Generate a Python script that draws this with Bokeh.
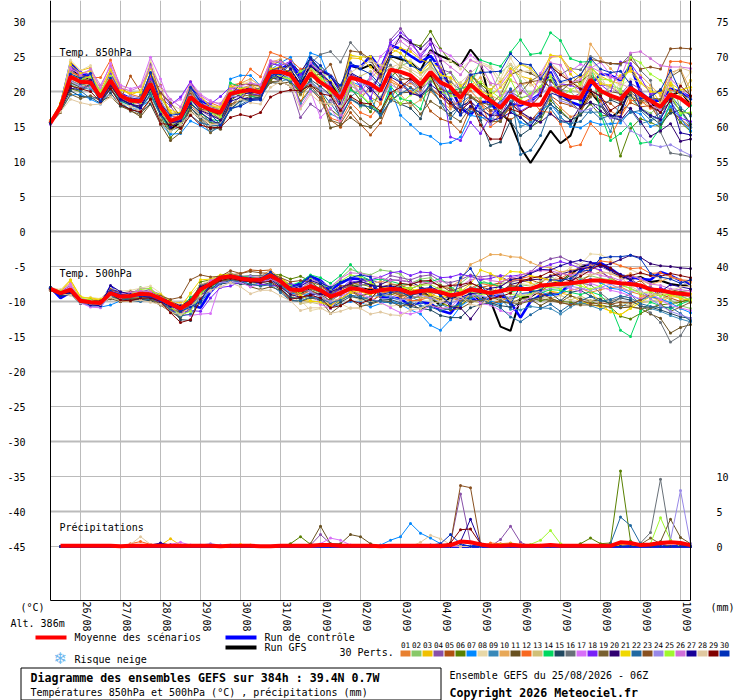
from bokeh.plotting import figure
from bokeh.models import Label, BoxAnnotation, FixedTicker, LinearAxis, Range1d
from bokeh.embed import file_html
from bokeh.resources import INLINE

hours = [6*i for i in range(65)]
day_labels = ["26/08","27/08","28/08","29/08","30/08","31/08","01/09","02/09","03/09","04/09","05/09","06/09","07/09","08/09","09/09","10/09"]
left_ticks = [30,25,20,15,10,5,0,-5,-10,-15,-20,-25,-30,-35,-40,-45]
right_labels = {30:"75",25:"70",20:"65",15:"60",10:"55",5:"50",0:"45",-5:"40",-10:"35",-15:"30",-35:"10",-40:"5",-45:"0"}
member_colors = ["#E88030","#88C868","#F0C000","#8850A8","#B05010","#588000","#0088FF","#E8D8A8","#3888B8","#E8A858","#685020","#F86820","#D0C078","#00D860","#204860","#687078","#D870F8","#7820F8","#786030","#300070","#F0D800","#2068A0","#885020","#9888E8","#A0F830","#D070D8","#180098","#E0C8A0","#800000","#0030B8"]

mean850 = [15.5,17.8,22.1,21.4,21.3,19.2,21.6,19.4,18.7,18.6,21.1,17.8,15.8,16.3,19.2,18.0,17.4,17.0,19.7,20.0,20.2,19.9,22.8,22.8,22.4,20.4,22.6,21.3,20.4,19.0,22.0,21.6,21.1,20.1,23.1,22.8,22.3,21.0,22.8,21.3,20.6,19.1,21.0,19.7,18.7,17.7,19.4,18.5,18.1,18.1,20.5,19.7,19.2,19.1,21.7,20.1,19.4,18.9,20.5,19.6,18.7,17.8,19.6,19.0,17.9]
ctrl850 = [15.5,17.9,24.0,22.5,22.1,19.4,22.3,19.7,19.0,18.7,22.3,18.5,15.4,15.9,20.6,18.7,17.7,17.3,19.9,20.1,20.3,20.3,23.0,23.2,24.0,22.0,24.5,23.0,22.3,20.4,23.7,23.5,25.1,23.2,26.6,26.1,25.1,24.2,25.1,23.2,20.6,17.7,16.6,18.5,18.5,16.3,18.2,18.0,18.7,19.7,22.8,19.7,18.5,18.0,20.9,22.5,22.3,21.6,23.7,19.9,18.7,18.7,20.4,19.9,19.2]
gfs850 = [15.5,17.4,23.5,22.0,21.8,18.8,22.5,19.5,18.5,18.5,21.5,17.0,14.6,15.6,19.7,18.2,17.0,16.8,19.4,20.2,20.5,20.0,22.5,22.6,23.0,21.0,23.8,22.4,21.2,19.2,23.7,23.2,23.8,22.4,25.1,24.6,24.2,23.0,25.9,25.1,24.5,23.6,26.0,24.2,18.2,17.0,15.6,12.0,9.8,12.0,14.4,12.6,13.7,17.5,19.9,18.2,16.2,17.3,20.4,19.1,18.3,17.2,19.4,20.0,18.2]
mean500 = [-8.2,-8.8,-8.3,-9.9,-10.1,-10.2,-8.8,-9.3,-9.2,-8.9,-9.0,-9.6,-10.3,-11.0,-10.1,-8.3,-7.5,-6.6,-6.4,-6.7,-6.9,-6.9,-6.3,-7.1,-8.3,-8.4,-7.8,-8.4,-9.3,-8.8,-8.1,-8.3,-8.7,-8.4,-8.2,-8.3,-8.8,-8.5,-8.4,-8.7,-9.1,-8.9,-8.3,-8.5,-8.8,-8.5,-8.2,-8.2,-8.2,-7.7,-7.6,-7.5,-7.4,-7.2,-7.0,-7.0,-7.2,-7.4,-7.5,-7.7,-8.3,-8.4,-8.7,-8.9,-9.0]
ctrl500 = [-8.0,-9.5,-8.7,-10.0,-10.3,-10.4,-7.9,-9.0,-9.6,-9.7,-9.4,-9.6,-10.5,-10.8,-10.5,-10.9,-8.6,-7.2,-6.5,-6.7,-6.9,-7.0,-6.5,-7.2,-8.0,-7.4,-6.4,-7.0,-8.4,-7.4,-6.7,-6.8,-7.0,-9.4,-9.4,-9.6,-10.6,-10.1,-10.3,-11.3,-11.7,-9.9,-9.5,-9.9,-9.3,-9.1,-10.1,-12.3,-10.0,-9.1,-9.0,-8.9,-7.2,-5.6,-4.6,-4.5,-5.3,-6.3,-6.5,-6.8,-6.9,-5.8,-6.3,-7.0,-7.5]
gfs500 = [-8.1,-8.9,-8.1,-9.8,-10.2,-10.3,-9.0,-9.5,-9.4,-9.1,-8.7,-9.4,-10.6,-11.4,-10.4,-8.0,-7.2,-6.4,-6.2,-6.6,-6.7,-6.8,-6.1,-7.3,-8.5,-8.8,-8.1,-8.6,-9.0,-8.2,-7.6,-8.1,-8.3,-8.5,-8.2,-8.0,-8.6,-8.4,-9.4,-10.6,-9.4,-9.4,-9.8,-9.4,-9.9,-13.6,-14.2,-9.5,-9.3,-8.4,-7.5,-7.2,-6.1,-5.1,-4.7,-4.6,-5.6,-6.5,-6.8,-6.5,-7.2,-7.0,-7.5,-7.7,-7.7]
mean_mm = [0.1,0.1,0.1,0.1,0.1,0.1,0.1,0.05,0.1,0.1,0.1,0.1,0.1,0.1,0.1,0.1,0.1,0.05,0.1,0.1,0.1,0.05,0.05,0.1,0.1,0.1,0.1,0.2,0.2,0.1,0.1,0.1,0.1,0.05,0.1,0.1,0.1,0.1,0.1,0.1,0.2,0.7,0.6,0.3,0.1,0.1,0.2,0.1,0.1,0.1,0.2,0.1,0.1,0.1,0.1,0.1,0.1,0.6,0.5,0.2,0.3,0.5,0.6,0.5,0.2]
ctrl_mm = [0.0]*65
gfs_mm = [0.0]*65

t850_01 = [15.6,17.9,22.8,22.0,21.6,19.4,22.4,19.8,18.9,18.2,21.7,17.2,15.0,
 15.8,19.8,18.2,17.0,16.6,19.2,20.4,20.9,20.2,23.4,23.0,22.1,20.1,
 23.0,21.8,19.6,17.9,21.2,20.6,19.2,18.3,21.4,20.7,21.2,20.2,22.3,
 19.8,18.8,17.7,19.4,18.2,16.9,16.2,18.3,16.8,15.9,16.6,19.1,17.7,
 16.4,16.8,20.3,18.6,17.2,16.4,19.6,18.3,18.7,17.4,20.2,19.9,18.4]
t850_02 = [15.4,17.5,21.0,20.4,22.2,18.9,20.8,19.6,17.9,18.0,20.0,19.2,16.8,
 16.9,20.1,18.9,18.2,17.3,20.5,20.2,19.6,19.3,22.3,21.8,23.3,19.5,
 21.8,23.4,20.7,17.6,19.4,17.8,18.6,19.2,21.8,23.7,24.2,22.5,23.6,
 21.9,22.8,20.9,19.3,19.0,19.8,22.7,23.9,21.5,19.2,20.4,22.2,20.3,
 20.0,18.4,22.0,19.3,20.8,20.4,19.0,17.6,16.9,18.0,21.8,17.5,15.4]
t850_03 = [15.7,18.3,24.2,23.0,23.4,20.3,23.2,20.4,19.5,20.1,24.0,19.5,16.9,
 17.0,21.4,19.2,18.0,17.6,20.5,21.3,21.0,20.6,24.0,24.2,23.5,18.0,
 23.2,21.9,19.8,18.6,24.8,24.7,23.5,21.9,25.4,26.2,25.7,24.6,24.0,
 23.4,21.0,19.0,22.7,20.9,20.3,21.4,23.3,22.2,21.8,20.2,24.9,25.0,
 22.5,20.8,23.4,22.2,21.5,21.1,23.4,21.3,20.4,18.4,20.9,19.4,21.6]
t850_04 = [15.4,17.6,23.0,22.1,21.9,19.5,22.8,19.2,17.9,19.4,23.9,19.2,17.9,
 16.0,18.8,17.3,16.4,16.3,19.1,20.6,20.6,20.1,22.1,21.4,20.8,16.3,
 18.2,17.2,18.8,17.2,20.4,18.8,20.9,21.9,27.4,29.0,27.0,25.3,26.7,
 23.2,22.7,20.1,22.9,20.2,17.3,16.4,19.3,17.1,16.0,16.7,21.4,20.3,
 19.0,19.8,22.6,21.0,20.7,19.6,21.2,20.3,18.1,16.4,17.8,15.5,14.9]
t850_05 = [15.8,17.8,21.8,21.2,20.5,19.4,20.8,18.8,22.2,20.0,19.9,20.9,15.9,
 16.1,18.0,16.7,15.4,15.4,18.2,18.7,20.6,19.4,21.7,22.2,21.4,18.6,
 20.4,18.8,15.9,14.9,17.0,15.3,13.8,15.5,18.9,21.4,20.6,19.8,17.2,
 16.1,15.6,14.2,17.6,16.5,15.4,16.7,16.0,16.8,15.8,17.4,19.4,18.4,
 18.0,17.3,19.6,18.8,18.3,17.0,18.4,17.8,18.0,15.8,17.2,16.1,14.9]
t850_06 = [15.5,17.7,20.4,20.0,21.0,19.0,21.0,18.8,18.2,17.7,19.5,16.6,13.4,
 14.9,18.2,17.2,15.5,15.6,18.7,19.7,19.8,19.3,21.6,22.7,21.2,19.9,
 21.3,20.0,17.5,16.3,20.6,18.7,17.1,20.3,22.0,23.5,26.9,26.5,28.6,
 26.1,24.3,23.8,22.4,21.1,19.8,16.8,17.4,16.3,14.9,15.8,18.7,17.3,
 15.9,16.7,18.2,16.6,16.5,10.8,14.7,16.1,15.6,14.9,17.4,15.6,14.3]
t850_07 = [15.5,17.2,19.5,19.6,18.9,18.2,20.4,18.4,17.4,17.8,18.8,15.4,13.9,
 14.0,15.8,15.1,14.2,15.0,21.8,22.3,22.3,20.8,23.1,24.1,24.9,22.2,
 25.5,25.0,21.5,19.6,21.4,20.9,19.1,16.3,20.4,16.6,15.3,14.0,13.6,
 12.5,12.7,13.5,16.6,16.3,16.1,18.8,17.5,15.6,15.0,17.3,18.2,16.4,
 15.0,14.8,15.7,15.3,15.4,15.5,17.2,16.8,15.0,15.5,17.9,16.1,14.4]
t850_08 = [15.9,17.9,24.5,23.0,23.7,19.8,22.6,21.0,19.8,20.0,24.5,20.3,18.2,
 17.4,20.3,19.0,18.2,17.6,20.6,20.9,21.5,20.3,23.2,22.0,21.6,23.0,
 24.2,22.5,21.6,20.1,22.3,19.5,18.2,19.0,22.1,24.1,24.5,23.0,24.0,
 24.3,24.4,23.2,24.4,24.2,23.6,21.8,24.8,22.3,20.9,21.4,24.1,22.8,
 21.6,20.5,24.4,22.9,21.7,20.8,21.8,21.3,20.2,19.6,21.5,21.0,22.7]
t850_09 = [15.6,18.1,21.2,20.6,20.3,19.3,20.4,18.6,17.2,17.6,19.4,16.6,14.4,
 15.2,17.7,16.4,15.8,15.2,17.4,18.6,18.8,19.2,21.3,21.4,21.9,18.3,
 20.3,19.2,16.8,16.1,19.2,20.4,22.1,20.5,22.5,21.4,20.0,20.8,22.3,
 20.9,18.1,18.4,19.4,17.8,16.3,15.7,18.6,15.0,15.6,16.4,19.5,16.3,
 15.2,17.1,17.0,17.1,14.3,18.6,17.4,15.4,15.8,16.4,18.8,17.3,14.9]
t850_10 = [15.7,18.0,22.4,21.5,22.3,19.6,22.6,19.6,18.4,18.2,21.9,18.4,15.9,
 16.6,20.0,17.5,16.8,16.2,20.9,21.2,21.8,20.8,24.2,24.6,23.1,19.6,
 22.7,21.6,20.9,18.0,21.8,19.4,20.2,18.7,21.7,19.6,17.9,18.8,20.0,
 18.6,17.5,18.9,20.8,22.0,19.5,18.7,21.6,20.9,21.3,19.4,23.8,22.8,
 21.4,19.4,26.8,24.8,23.3,21.9,23.0,22.3,20.9,19.4,22.7,23.2,20.2]
t850_11 = [15.4,17.0,21.3,20.6,20.8,18.6,19.3,17.9,17.3,16.4,18.2,15.3,13.0,
 14.1,17.7,16.3,15.0,14.6,17.9,18.8,19.3,19.4,21.3,21.1,21.4,20.2,
 20.9,20.1,14.8,15.2,16.3,15.2,14.9,16.3,18.7,19.8,19.9,19.2,20.4,
 19.3,18.0,16.9,19.1,18.4,18.1,19.5,22.4,23.0,22.6,21.8,21.6,20.0,
 21.2,21.4,22.5,19.7,20.0,19.7,19.4,18.4,19.3,20.3,19.2,17.2,16.8]
t850_12 = [15.9,18.2,22.7,22.3,22.0,22.0,24.5,20.6,19.6,19.2,22.2,18.7,16.4,
 16.5,20.3,17.7,18.4,17.8,20.6,21.2,23.2,22.1,25.6,25.1,24.5,23.2,
 23.4,20.1,16.2,15.7,18.4,17.0,16.4,18.2,21.8,20.8,20.0,19.5,20.6,
 19.3,17.9,18.6,20.1,18.6,15.0,16.0,17.7,18.3,19.0,17.2,17.0,15.4,
 12.1,12.4,15.4,14.0,13.5,16.3,18.7,18.7,17.6,18.2,24.3,24.3,24.0]
t850_13 = [15.5,17.7,21.9,21.0,20.9,19.1,21.4,19.4,19.1,18.4,20.7,17.5,15.4,
 15.6,18.9,18.5,17.7,17.4,20.0,20.8,20.0,19.8,22.2,23.2,23.7,21.6,
 23.3,22.4,22.3,20.6,21.5,22.2,22.9,21.5,24.7,23.6,22.9,21.8,23.7,
 22.4,21.8,19.3,21.6,22.9,21.0,19.7,22.8,24.0,23.4,21.6,22.4,21.1,
 20.3,19.7,22.5,21.4,20.6,20.0,19.3,18.9,17.9,17.5,18.8,19.6,21.5]
t850_14 = [15.6,17.5,22.1,22.0,20.9,18.7,20.4,18.6,18.0,19.0,19.7,17.0,14.3,
 15.4,18.5,16.9,16.0,15.8,21.2,20.7,19.4,18.9,22.9,22.6,21.7,21.2,
 24.9,22.5,20.0,18.2,20.2,19.5,18.0,17.0,20.8,19.0,18.6,17.5,21.8,
 19.8,20.1,20.4,20.9,24.5,24.0,23.6,25.6,27.4,25.3,25.5,28.4,27.3,
 24.7,24.2,24.3,16.8,13.0,14.0,15.4,12.6,12.8,14.8,18.5,16.6,18.0]
t850_15 = [15.4,17.3,20.1,19.3,19.2,18.3,19.8,18.0,17.5,16.9,18.3,15.4,14.4,
 15.0,17.7,16.1,14.6,14.9,17.5,18.7,19.0,19.2,22.0,21.7,22.6,19.7,
 21.7,20.7,19.5,16.3,18.9,18.2,17.7,16.9,19.5,18.2,17.6,16.1,20.3,
 18.6,16.9,17.9,18.6,15.9,12.3,12.8,15.8,13.7,14.7,16.4,18.2,17.0,
 15.9,16.6,18.4,17.9,18.8,18.2,19.5,17.5,16.4,15.3,16.9,17.4,15.3]
t850_16 = [15.5,17.4,21.6,20.9,21.3,18.8,21.3,19.0,18.3,19.5,21.2,18.0,15.2,
 15.5,20.2,18.1,17.2,15.9,19.3,19.8,20.4,20.4,23.6,24.4,23.4,21.8,
 24.0,25.3,25.7,24.2,27.0,25.4,24.3,22.6,23.8,22.2,21.5,20.4,21.4,
 22.0,21.4,20.2,22.3,20.8,19.3,16.9,20.0,19.1,19.4,20.6,23.7,22.4,
 23.3,23.1,25.0,24.2,24.0,23.8,25.3,23.0,21.6,14.2,11.2,11.0,10.7]
t850_17 = [15.3,18.0,23.2,22.6,23.0,20.4,24.0,20.9,20.4,20.8,24.9,21.8,18.1,
 18.9,21.4,19.6,18.7,18.1,20.5,19.9,21.1,21.0,24.4,23.4,22.2,17.8,
 20.0,16.3,17.6,15.5,21.6,19.7,22.0,25.0,26.4,27.8,26.7,25.3,27.2,
 25.9,25.1,23.7,25.2,24.1,22.8,19.3,20.2,18.3,18.7,22.6,25.0,25.1,
 22.9,23.9,23.3,24.2,22.4,21.1,20.5,19.2,18.1,17.3,21.9,20.2,19.0]
t850_18 = [15.6,18.1,23.4,22.8,22.4,19.9,22.5,19.8,18.9,18.1,21.8,19.9,18.1,
 19.2,21.4,18.9,18.2,19.3,20.7,20.0,19.6,19.5,24.0,23.7,24.3,22.4,
 23.8,22.7,21.0,17.5,22.4,20.8,19.0,23.1,27.0,28.4,27.3,24.9,26.8,
 22.9,13.5,13.0,15.6,14.0,16.5,18.2,20.3,17.2,18.0,20.2,23.5,21.1,
 20.9,20.3,21.4,21.0,19.9,24.2,24.0,22.0,19.6,20.0,18.6,16.2,15.7]
t850_19 = [15.8,17.2,19.6,19.0,19.4,18.7,20.6,18.2,17.2,16.7,19.0,15.9,14.5,
 15.2,17.3,15.9,14.1,15.4,18.0,19.3,19.5,19.4,21.4,21.5,20.7,19.6,
 20.8,19.1,15.9,15.4,17.7,16.1,15.0,16.4,18.8,18.2,18.4,16.8,18.6,
 17.7,16.6,15.7,17.8,16.9,15.7,15.7,18.2,19.8,21.5,22.3,20.4,19.0,
 18.5,17.2,19.2,20.4,19.0,18.6,19.9,18.7,19.1,18.9,22.1,23.0,19.2]
t850_20 = [15.5,17.6,20.5,20.2,21.1,18.6,20.9,18.9,18.2,17.9,20.5,18.0,15.6,
 15.7,19.0,17.3,16.7,15.9,19.0,19.5,19.9,19.7,22.1,22.9,24.0,22.8,
 24.8,23.0,22.2,19.8,22.5,21.7,20.1,22.4,25.5,27.9,27.0,26.1,27.5,
 24.4,20.4,17.9,18.5,17.4,16.6,16.6,18.3,17.1,16.2,15.6,16.8,15.8,
 15.7,17.9,18.5,17.2,16.3,15.9,17.6,15.7,13.6,14.4,15.4,12.9,13.2]
t850_21 = [15.7,18.4,23.8,22.6,22.9,19.7,23.1,20.2,19.8,19.9,23.3,19.2,17.3,
 16.9,20.8,19.4,17.8,17.8,20.7,20.4,20.7,20.0,23.2,23.5,22.7,20.9,
 22.5,21.7,21.5,19.3,25.2,24.9,25.0,22.9,26.1,25.5,24.0,22.6,24.2,
 22.4,22.0,20.8,22.0,20.1,19.4,20.6,22.3,23.9,23.2,22.0,25.2,25.0,
 23.2,22.0,23.4,21.1,20.9,22.3,22.9,21.2,20.0,19.8,21.2,20.2,20.6]
t850_22 = [15.4,17.7,20.9,20.1,19.0,19.2,20.2,18.7,18.0,17.6,19.7,16.7,15.7,
 15.9,16.6,15.5,15.2,15.1,17.4,18.1,18.9,19.0,22.2,22.0,21.4,20.0,
 21.5,20.1,18.3,16.4,18.9,18.0,17.8,16.6,18.6,19.7,20.5,19.3,20.8,
 18.4,16.1,18.0,17.1,17.2,17.9,18.5,20.4,11.0,11.6,13.7,17.6,15.7,
 15.4,15.7,17.4,16.1,16.6,15.9,17.0,17.3,15.9,17.0,19.5,17.7,16.5]
t850_23 = [15.6,18.2,22.2,21.9,21.5,19.5,21.1,19.3,19.0,18.7,22.6,19.8,18.4,
 16.4,19.6,17.5,17.2,16.5,19.6,21.0,21.0,20.8,23.0,23.5,22.6,20.4,
 22.2,22.5,23.9,20.1,25.8,25.6,24.6,22.1,23.5,21.7,21.9,21.1,22.4,
 20.4,19.7,19.9,19.4,18.4,17.3,17.6,19.8,21.1,21.4,21.6,20.6,20.7,
 21.1,22.3,24.6,24.3,24.0,24.0,24.6,23.2,23.5,23.2,26.1,26.2,26.1]
t850_24 = [15.5,17.6,21.5,20.7,20.6,19.0,21.8,19.1,19.4,19.0,20.9,18.6,16.5,
 15.9,19.4,18.4,17.7,17.1,19.3,19.2,20.6,19.8,22.4,22.4,22.0,20.9,
 21.1,20.4,19.4,19.8,22.9,21.2,20.6,18.9,21.0,20.2,21.5,19.7,21.9,
 20.9,19.4,17.3,18.7,17.3,15.3,18.4,19.6,20.9,18.8,19.5,20.9,18.7,
 18.2,17.2,17.5,18.2,16.2,16.3,14.4,13.7,12.4,12.1,12.4,11.6,10.9]
t850_25 = [15.6,18.0,22.6,21.8,22.1,20.1,22.2,19.7,18.6,18.4,20.2,16.9,15.2,
 15.6,19.1,17.9,17.0,16.4,20.1,19.6,20.1,20.3,23.0,22.1,21.8,22.9,
 23.5,21.7,19.9,17.0,21.3,19.6,18.2,17.2,19.4,18.3,19.5,20.7,21.9,
 20.0,19.4,19.2,20.5,21.4,20.1,19.0,21.7,18.9,19.7,20.7,22.1,19.2,
 20.2,21.1,23.7,21.8,21.6,19.9,24.9,24.1,22.5,21.6,19.8,16.9,17.0]
t850_26 = [15.4,17.9,23.4,22.3,23.2,20.9,23.6,20.5,20.1,20.7,23.5,20.8,18.9,
 17.8,21.0,19.4,18.5,18.3,20.4,20.8,21.2,20.9,24.4,24.2,23.8,21.6,
 24.1,22.9,20.4,16.6,20.9,19.8,21.8,23.4,26.0,27.2,26.1,24.8,25.6,
 24.7,23.5,22.4,24.5,23.8,21.2,20.9,22.9,20.2,19.3,22.1,24.1,23.8,
 21.3,21.7,23.5,22.8,22.0,21.9,25.5,25.7,24.7,23.7,23.5,23.5,23.3]
t850_27 = [15.5,17.3,22.3,21.2,21.6,18.5,21.2,18.9,18.2,17.6,20.4,16.8,14.9,
 15.8,18.3,17.0,16.0,15.2,18.6,19.1,18.9,18.9,22.7,21.9,23.2,21.0,
 23.6,22.6,21.3,18.3,22.7,21.9,20.5,18.9,22.1,21.3,19.7,19.4,21.0,
 19.9,18.4,16.7,17.9,16.9,15.8,16.2,17.0,16.3,15.1,16.9,19.8,19.3,
 19.0,18.8,20.2,19.2,16.6,16.4,21.4,17.6,16.6,16.0,18.9,14.1,13.8]
t850_28 = [15.7,17.1,18.9,18.4,18.1,18.2,19.2,18.3,17.9,17.2,18.6,15.4,14.3,
 15.3,16.9,16.4,15.3,15.4,17.7,18.9,18.4,18.2,20.6,21.4,20.8,17.5,
 19.6,18.4,18.2,17.9,22.7,23.6,24.4,23.8,23.4,24.0,23.2,22.4,23.3,
 22.0,20.8,21.3,22.6,23.9,23.4,21.0,23.9,22.8,23.0,21.5,19.9,21.2,
 21.5,20.6,22.9,22.2,19.7,21.2,20.4,19.0,18.5,18.2,22.3,23.4,22.9]
t850_29 = [15.5,17.6,20.8,20.4,20.0,18.5,20.4,18.2,17.4,17.1,18.9,15.4,15.3,
 14.7,16.6,15.2,14.8,14.9,16.3,16.7,16.4,17.0,19.2,19.9,20.2,20.1,
 20.9,19.7,19.4,17.3,19.3,18.4,18.2,17.2,19.8,20.6,21.8,20.6,22.3,
 19.4,18.4,17.3,18.5,15.2,13.2,13.2,17.5,17.0,17.9,19.4,23.6,22.4,
 21.4,20.4,20.1,19.4,17.3,18.2,20.6,19.8,17.9,17.0,18.6,20.8,19.4]
t850_30 = [15.5,18.0,22.5,21.9,22.6,18.6,21.9,19.5,18.9,18.9,22.7,18.2,16.6,
 16.8,20.6,18.6,16.8,15.2,17.6,17.9,18.7,18.8,22.3,22.5,23.9,21.5,
 24.9,23.7,22.1,20.9,24.1,23.2,22.5,20.9,25.0,24.9,23.7,23.1,24.5,
 21.9,18.9,16.6,22.4,22.7,22.8,22.9,25.4,24.0,23.8,21.8,23.9,21.4,
 21.8,22.4,24.7,23.2,22.7,22.9,21.0,19.0,19.2,20.2,23.0,19.9,18.9]

t500_01 = [-8.2,-8.7,-8.0,-9.8,-10.2,-10.1,-8.6,-9.0,-9.1,-9.2,-9.3,-9.5,-10.6,-11.3,-11.0,-9.8,-7.9,-6.4,-6.1,-6.7,-6.6,-7.0,-6.0,-6.9,-8.1,-8.9,-7.5,-8.7,-9.5,-8.4,-8.3,-9.0,-9.9,-9.2,-8.9,-9.4,-10.0,-9.6,-9.0,-8.2,-9.5,-9.9,-9.1,-9.5,-10.2,-9.9,-9.4,-8.9,-8.7,-9.0,-8.7,-8.9,-8.4,-8.1,-8.7,-8.3,-8.0,-7.9,-8.6,-9.0,-9.4,-9.7,-9.0,-9.5,-10.1]
t500_02 = [-8.0,-8.5,-8.4,-9.9,-10.6,-10.7,-9.2,-9.7,-9.0,-8.0,-8.3,-9.1,-10.4,-10.9,-9.9,-8.7,-7.3,-7.0,-6.8,-6.6,-7.3,-7.1,-6.8,-7.5,-8.7,-8.4,-8.1,-8.8,-8.4,-6.7,-5.4,-5.9,-6.2,-5.5,-5.7,-6.1,-7.4,-6.8,-6.6,-7.6,-8.2,-7.4,-6.3,-6.9,-7.6,-7.4,-7.3,-7.6,-7.8,-7.2,-6.4,-7.2,-6.1,-6.8,-6.3,-6.7,-6.9,-7.7,-8.1,-8.8,-9.5,-9.0,-9.8,-10.6,-11.0]
t500_03 = [-8.3,-8.4,-6.9,-9.3,-9.6,-9.8,-8.6,-9.3,-8.9,-9.0,-8.9,-9.2,-10.1,-10.2,-9.7,-7.7,-7.1,-6.7,-6.5,-6.6,-6.9,-6.8,-5.9,-6.6,-7.6,-9.8,-10.0,-10.0,-10.5,-10.0,-8.9,-8.6,-9.1,-8.0,-8.3,-8.1,-8.0,-9.0,-9.3,-9.9,-10.9,-10.7,-8.6,-9.8,-10.0,-6.7,-7.1,-7.0,-7.3,-8.1,-8.5,-8.8,-9.1,-10.0,-10.4,-10.8,-11.4,-11.9,-10.9,-9.4,-9.0,-10.1,-9.3,-8.7,-8.9]
t500_04 = [-8.1,-8.6,-7.7,-9.5,-10.4,-10.5,-8.4,-8.7,-9.3,-8.6,-8.3,-9.4,-10.1,-10.7,-10.2,-7.5,-7.5,-6.8,-6.3,-6.9,-7.2,-6.6,-5.9,-7.5,-9.0,-8.1,-7.3,-8.4,-10.3,-9.5,-7.5,-7.0,-6.9,-7.4,-6.3,-6.6,-6.9,-6.4,-6.2,-7.1,-7.3,-6.9,-6.2,-6.5,-6.3,-6.4,-7.2,-6.9,-5.8,-4.5,-3.9,-3.6,-4.3,-4.8,-4.6,-5.0,-5.7,-6.2,-6.7,-7.8,-7.9,-8.6,-8.9,-9.0,-9.4]
t500_05 = [-8.4,-8.9,-8.5,-10.0,-9.7,-10.3,-9.1,-10.0,-10.0,-9.7,-9.5,-10.4,-11.4,-12.0,-9.6,-8.0,-7.8,-6.9,-6.2,-6.0,-5.5,-5.6,-5.5,-7.7,-9.1,-9.0,-8.5,-9.1,-10.5,-9.7,-8.5,-9.4,-10.4,-8.7,-8.5,-8.9,-9.6,-9.2,-8.4,-7.8,-8.2,-8.7,-8.4,-8.0,-7.7,-7.3,-6.6,-6.8,-6.9,-7.4,-6.3,-5.9,-6.3,-7.1,-6.2,-5.8,-6.6,-7.4,-7.7,-7.0,-8.3,-8.9,-9.5,-10.0,-9.8]
t500_06 = [-8.0,-8.6,-8.7,-10.2,-10.5,-10.4,-9.4,-9.8,-9.7,-9.2,-9.7,-10.0,-10.8,-11.4,-10.9,-7.2,-6.9,-6.5,-6.5,-6.8,-6.9,-6.7,-6.1,-6.2,-6.8,-6.4,-7.1,-8.3,-9.7,-8.9,-7.8,-7.5,-7.9,-9.1,-9.0,-8.7,-9.3,-9.4,-9.6,-10.3,-10.7,-10.6,-9.4,-9.0,-8.6,-8.9,-9.7,-9.2,-9.5,-9.9,-9.6,-10.0,-10.1,-10.4,-10.0,-10.5,-10.8,-12.1,-12.5,-11.7,-11.0,-10.5,-10.3,-10.1,-9.6]
t500_07 = [-8.1,-8.8,-8.6,-10.1,-10.7,-10.8,-10.5,-9.9,-9.6,-9.1,-8.6,-8.9,-10.2,-11.1,-10.7,-9.9,-8.2,-7.4,-6.9,-6.9,-7.6,-7.3,-6.6,-7.7,-8.8,-9.0,-8.9,-9.7,-10.8,-10.4,-10.0,-10.1,-10.8,-10.3,-9.9,-10.4,-11.2,-11.8,-13.4,-14.1,-12.6,-10.7,-9.7,-9.1,-9.9,-10.4,-9.5,-8.9,-8.7,-8.6,-9.1,-8.8,-7.9,-7.0,-6.8,-7.3,-8.1,-8.3,-9.0,-9.8,-9.3,-9.6,-10.2,-11.0,-11.6]
t500_08 = [-8.0,-8.3,-7.6,-9.5,-9.4,-9.6,-8.1,-8.5,-8.4,-8.1,-7.8,-8.8,-10.0,-10.4,-9.0,-7.6,-6.9,-6.5,-6.2,-6.5,-6.9,-7.3,-7.5,-8.4,-9.2,-9.8,-11.3,-11.0,-10.7,-10.3,-11.0,-10.8,-9.9,-10.3,-10.7,-10.4,-10.9,-9.7,-9.4,-9.6,-10.0,-9.1,-8.8,-9.4,-8.6,-8.9,-8.0,-7.4,-7.7,-6.9,-7.0,-6.2,-5.1,-4.7,-3.2,-3.3,-4.0,-5.0,-5.4,-6.1,-6.3,-6.7,-6.4,-6.9,-7.9]
t500_09 = [-8.3,-9.0,-8.6,-10.0,-10.2,-10.6,-9.3,-9.4,-9.5,-9.3,-9.6,-10.2,-11.0,-12.1,-11.2,-8.5,-7.7,-6.8,-6.6,-7.0,-7.2,-7.4,-7.0,-7.8,-9.6,-9.5,-8.7,-9.3,-11.0,-9.6,-9.0,-9.7,-9.3,-9.1,-9.4,-9.8,-9.3,-10.0,-10.9,-10.4,-11.0,-10.2,-9.2,-8.7,-9.2,-9.6,-11.1,-11.2,-10.7,-10.9,-11.0,-11.8,-10.8,-10.1,-10.6,-11.1,-10.6,-10.9,-9.9,-10.7,-11.0,-11.4,-12.0,-12.5,-12.9]
t500_10 = [-8.2,-8.5,-7.3,-9.6,-9.9,-10.0,-8.9,-9.2,-8.9,-8.4,-8.8,-9.3,-10.7,-11.6,-10.3,-8.2,-7.4,-6.3,-6.0,-6.3,-6.7,-6.4,-5.5,-6.7,-7.8,-8.2,-7.9,-8.2,-8.9,-8.4,-7.2,-7.6,-7.6,-7.1,-7.4,-7.8,-7.6,-8.0,-8.3,-8.1,-7.9,-7.0,-4.7,-4.1,-3.3,-3.3,-3.6,-3.7,-4.4,-5.0,-5.2,-5.8,-5.5,-5.3,-4.9,-5.7,-6.0,-6.6,-6.0,-6.9,-7.6,-7.1,-6.6,-6.9,-7.3]
t500_11 = [-8.4,-9.1,-8.9,-9.9,-10.4,-10.2,-9.6,-10.0,-9.7,-9.8,-9.9,-10.5,-11.5,-12.3,-10.8,-9.0,-8.5,-7.3,-6.9,-7.1,-7.9,-8.3,-7.9,-8.4,-9.8,-10.0,-9.5,-9.8,-11.7,-10.6,-9.7,-10.7,-10.4,-9.9,-10.0,-10.7,-10.3,-11.1,-10.5,-10.9,-11.2,-11.0,-10.2,-9.7,-10.4,-10.0,-10.3,-9.6,-9.7,-10.6,-9.8,-10.1,-9.2,-9.6,-9.9,-9.8,-10.3,-10.9,-10.8,-11.0,-11.8,-12.4,-14.5,-13.7,-13.3]
t500_12 = [-8.1,-8.7,-8.2,-9.7,-10.1,-10.3,-8.7,-9.1,-9.3,-9.5,-9.0,-9.9,-10.9,-11.8,-10.6,-8.9,-7.8,-6.7,-6.7,-6.8,-6.8,-6.9,-6.4,-7.2,-8.4,-9.2,-8.3,-7.9,-8.7,-8.1,-7.7,-8.6,-8.0,-8.8,-8.6,-9.1,-9.9,-9.8,-9.3,-8.4,-8.9,-9.4,-8.1,-7.4,-7.7,-7.8,-7.0,-6.7,-6.4,-6.6,-7.0,-6.7,-5.9,-6.0,-5.1,-4.2,-4.4,-4.9,-5.3,-5.2,-6.0,-5.9,-6.4,-6.9,-7.0]
t500_13 = [-8.2,-8.6,-8.1,-9.9,-10.0,-10.1,-8.9,-9.4,-9.3,-8.8,-8.9,-9.6,-10.7,-11.2,-9.8,-8.1,-7.6,-6.9,-6.4,-6.9,-7.2,-7.8,-7.4,-8.0,-8.9,-10.3,-10.1,-10.4,-9.9,-9.6,-9.2,-9.8,-9.6,-8.3,-7.9,-8.3,-8.7,-9.3,-9.7,-9.5,-8.8,-9.4,-9.9,-10.2,-9.7,-9.5,-9.8,-10.1,-9.9,-9.4,-9.6,-9.1,-9.8,-9.2,-9.9,-9.5,-9.8,-10.2,-10.4,-10.2,-10.0,-9.6,-9.4,-9.3,-9.2]
t500_14 = [-8.3,-8.8,-8.5,-10.0,-10.2,-10.3,-8.8,-9.6,-9.2,-9.4,-8.9,-9.8,-10.4,-11.0,-9.4,-8.6,-8.0,-7.1,-6.7,-6.4,-6.5,-6.8,-6.7,-6.8,-7.7,-7.2,-6.2,-6.6,-7.4,-6.3,-4.7,-6.3,-7.0,-6.8,-7.1,-7.5,-7.6,-7.0,-7.2,-6.7,-7.9,-8.8,-8.6,-7.3,-7.4,-7.9,-8.6,-8.4,-8.3,-8.8,-8.3,-8.4,-8.7,-9.0,-8.6,-9.1,-10.6,-14.1,-15.0,-11.4,-10.1,-10.6,-11.0,-10.4,-9.8]
t500_15 = [-8.1,-9.2,-9.0,-10.3,-10.3,-10.4,-9.2,-9.5,-9.9,-9.7,-9.9,-10.0,-10.9,-12.6,-12.7,-8.8,-8.1,-7.5,-7.3,-7.5,-7.6,-7.7,-7.3,-8.3,-9.4,-9.6,-9.2,-9.9,-10.9,-10.1,-9.3,-9.5,-10.2,-9.8,-9.7,-10.2,-10.7,-11.0,-11.2,-12.0,-12.3,-12.3,-10.9,-10.4,-10.2,-10.6,-10.8,-10.2,-9.6,-9.4,-8.8,-9.9,-8.7,-8.4,-9.2,-9.7,-10.3,-9.5,-9.8,-10.7,-10.8,-11.2,-11.7,-12.2,-12.4]
t500_16 = [-8.2,-8.7,-8.4,-9.8,-10.0,-10.5,-8.7,-9.1,-9.0,-8.9,-9.1,-9.7,-10.2,-11.2,-10.0,-7.7,-7.2,-6.3,-6.0,-6.4,-6.3,-6.3,-6.1,-7.0,-8.2,-8.5,-7.7,-8.1,-8.9,-8.0,-7.9,-7.7,-7.4,-8.6,-8.2,-8.8,-9.1,-8.7,-8.7,-8.9,-8.4,-8.6,-8.0,-8.2,-8.8,-8.4,-7.9,-7.8,-8.3,-8.0,-7.3,-7.7,-7.6,-7.4,-7.6,-8.8,-9.9,-9.5,-9.0,-10.4,-11.6,-13.0,-15.8,-14.9,-12.6]
t500_17 = [-8.3,-8.6,-7.5,-10.2,-10.8,-10.9,-9.0,-9.2,-8.8,-8.2,-8.1,-9.3,-10.5,-11.7,-12.0,-11.8,-11.7,-7.3,-7.0,-7.3,-7.9,-7.5,-6.5,-7.4,-8.6,-8.3,-8.6,-10.4,-11.0,-9.3,-8.6,-8.9,-9.5,-10.1,-10.9,-11.6,-11.8,-11.4,-10.6,-11.0,-10.8,-9.5,-8.9,-10.3,-10.5,-11.3,-11.7,-10.3,-9.4,-8.1,-7.5,-7.7,-8.1,-8.6,-7.4,-7.9,-8.4,-8.7,-9.2,-9.6,-8.9,-9.7,-10.6,-10.9,-11.3]
t500_18 = [-8.1,-8.9,-8.6,-9.9,-10.1,-10.2,-8.7,-8.9,-9.4,-9.0,-9.5,-10.1,-11.2,-11.6,-11.3,-11.4,-9.5,-8.0,-7.8,-7.2,-7.0,-7.5,-7.7,-7.8,-7.4,-7.9,-6.6,-7.4,-9.1,-8.2,-7.0,-7.4,-6.9,-6.5,-5.9,-5.7,-6.3,-5.8,-5.9,-6.6,-6.5,-6.1,-6.4,-6.9,-6.7,-6.3,-6.4,-6.2,-5.9,-5.2,-4.7,-4.3,-4.7,-5.3,-5.1,-5.5,-6.9,-7.7,-7.0,-8.5,-9.4,-8.0,-8.7,-9.2,-9.8]
t500_19 = [-8.2,-8.8,-8.2,-10.1,-10.3,-10.1,-9.3,-9.6,-9.5,-9.6,-9.7,-10.3,-11.1,-11.5,-10.5,-8.8,-7.9,-7.1,-6.9,-6.9,-7.1,-7.0,-6.7,-7.6,-8.6,-8.7,-8.4,-9.0,-9.9,-9.0,-8.4,-9.2,-8.8,-8.2,-8.6,-9.2,-9.0,-8.8,-9.2,-9.7,-9.3,-9.8,-10.0,-9.8,-9.3,-9.9,-10.2,-10.3,-9.9,-9.6,-9.9,-10.2,-10.4,-10.5,-10.5,-10.6,-10.8,-10.5,-10.7,-11.0,-10.9,-10.4,-11.4,-10.8,-10.1]
t500_20 = [-8.0,-8.7,-8.3,-9.8,-10.2,-10.4,-8.6,-9.0,-9.1,-8.9,-9.2,-9.5,-10.0,-10.6,-9.8,-7.9,-7.4,-6.7,-6.6,-7.0,-7.1,-7.2,-6.8,-7.9,-9.0,-9.4,-9.0,-8.9,-9.4,-8.7,-8.0,-8.2,-8.5,-7.6,-6.9,-7.0,-7.2,-7.9,-8.5,-8.9,-10.8,-10.9,-12.5,-10.6,-8.9,-8.6,-7.6,-7.2,-6.9,-6.8,-6.4,-6.1,-5.7,-5.4,-5.1,-5.0,-4.6,-4.0,-3.4,-3.7,-4.6,-4.9,-5.0,-5.2,-5.3]
t500_21 = [-8.2,-8.6,-7.0,-9.4,-9.5,-9.7,-8.9,-9.3,-9.0,-8.7,-8.5,-9.0,-9.9,-10.9,-8.8,-6.9,-6.8,-6.2,-6.1,-6.5,-7.0,-6.6,-6.2,-6.6,-7.9,-9.1,-9.9,-10.1,-10.6,-9.6,-8.7,-8.4,-8.9,-8.7,-8.4,-7.9,-8.4,-8.2,-9.0,-9.4,-9.2,-8.6,-7.5,-5.5,-6.0,-6.8,-5.7,-5.8,-6.3,-6.6,-6.9,-7.4,-7.7,-7.2,-8.5,-10.3,-11.5,-11.9,-11.0,-10.1,-9.3,-8.8,-9.1,-9.6,-9.8]
t500_22 = [-8.3,-8.9,-8.8,-10.0,-10.4,-10.6,-9.3,-9.7,-9.9,-10.0,-9.6,-9.8,-11.3,-12.1,-11.8,-10.2,-8.3,-7.4,-7.0,-7.2,-7.5,-7.8,-7.6,-8.7,-9.9,-9.9,-9.4,-9.6,-10.2,-9.8,-9.1,-9.3,-9.8,-10.0,-10.2,-10.3,-10.1,-10.6,-10.8,-11.3,-11.0,-10.3,-8.5,-9.6,-10.3,-10.9,-12.2,-12.9,-11.9,-11.0,-10.4,-11.4,-10.4,-9.9,-9.3,-10.0,-9.7,-9.2,-9.5,-10.3,-10.7,-10.9,-10.8,-11.7,-12.8]
t500_23 = [-8.1,-8.7,-8.0,-9.7,-9.8,-9.9,-8.3,-8.8,-8.6,-8.6,-8.7,-9.2,-9.7,-9.4,-6.9,-6.2,-6.5,-6.4,-5.6,-6.0,-5.7,-5.9,-6.0,-6.6,-7.2,-7.0,-7.2,-7.7,-8.7,-7.8,-7.6,-7.2,-7.5,-7.9,-7.6,-7.7,-8.2,-7.6,-7.3,-7.7,-8.6,-8.0,-7.4,-7.9,-8.3,-8.6,-7.7,-7.9,-8.4,-8.9,-9.5,-10.1,-10.5,-9.8,-10.3,-10.2,-10.4,-10.1,-10.2,-9.8,-9.0,-8.8,-8.3,-8.6,-8.4]
t500_24 = [-8.2,-8.8,-8.4,-10.1,-10.6,-10.8,-9.1,-9.5,-9.2,-9.3,-9.0,-9.4,-10.3,-11.3,-10.9,-9.5,-8.6,-7.2,-7.4,-7.2,-6.4,-6.6,-6.3,-7.3,-8.0,-7.7,-8.6,-9.3,-10.0,-8.7,-8.0,-8.0,-8.6,-8.8,-9.2,-9.8,-9.5,-9.1,-9.5,-10.1,-10.3,-9.6,-8.9,-9.2,-9.5,-8.9,-9.5,-9.0,-8.8,-8.6,-8.1,-8.0,-7.8,-8.1,-8.4,-8.0,-7.5,-8.2,-8.6,-8.3,-9.6,-10.6,-11.4,-11.9,-12.4]
t500_25 = [-8.2,-8.5,-8.2,-9.5,-9.8,-10.3,-8.6,-9.2,-8.9,-8.3,-8.1,-9.7,-10.8,-11.9,-11.4,-8.9,-7.8,-6.5,-6.3,-6.6,-6.8,-6.7,-6.2,-7.0,-8.1,-8.6,-6.8,-7.6,-8.0,-7.1,-6.2,-6.5,-7.3,-8.0,-8.1,-7.9,-8.1,-7.7,-7.6,-8.3,-8.7,-8.3,-8.7,-8.9,-9.0,-8.3,-8.9,-9.3,-8.9,-8.2,-7.9,-8.2,-7.4,-7.8,-8.2,-7.8,-6.7,-7.5,-8.2,-8.8,-8.6,-9.2,-8.9,-9.3,-9.7]
t500_26 = [-8.1,-8.7,-7.9,-9.6,-10.0,-10.1,-8.5,-8.9,-8.7,-8.5,-8.6,-9.5,-10.6,-11.1,-10.2,-8.4,-7.0,-6.5,-6.7,-6.8,-6.9,-7.1,-6.9,-7.3,-8.5,-8.2,-7.0,-7.2,-7.9,-6.7,-5.9,-6.0,-6.4,-6.6,-7.0,-6.9,-7.3,-7.2,-7.4,-7.0,-7.7,-7.8,-6.9,-6.6,-7.0,-7.2,-6.7,-6.3,-5.7,-5.6,-5.6,-6.0,-6.2,-6.0,-5.8,-6.3,-6.5,-7.0,-6.4,-6.7,-7.5,-7.7,-8.2,-8.3,-8.5]
t500_27 = [-8.2,-9.1,-8.7,-10.0,-10.5,-10.6,-7.7,-8.6,-9.0,-9.2,-9.4,-10.0,-10.7,-11.1,-10.4,-9.3,-7.7,-6.6,-6.4,-6.5,-6.7,-6.8,-6.4,-7.1,-8.3,-7.8,-7.0,-7.5,-8.6,-8.1,-7.4,-7.1,-7.7,-7.9,-7.8,-8.0,-8.9,-8.9,-7.9,-8.6,-9.6,-9.4,-8.9,-8.7,-8.1,-7.9,-6.9,-6.6,-6.0,-5.4,-5.5,-4.9,-4.4,-4.1,-4.4,-4.8,-5.5,-6.1,-6.9,-8.0,-8.2,-8.6,-7.6,-7.9,-8.2]
t500_28 = [-8.3,-8.9,-9.1,-10.1,-10.3,-10.4,-9.4,-9.9,-10.0,-9.8,-10.1,-10.4,-11.5,-11.9,-10.7,-9.2,-8.4,-7.9,-7.3,-7.9,-8.9,-8.4,-8.4,-9.2,-9.9,-11.3,-10.9,-10.9,-11.7,-11.4,-10.9,-11.0,-11.8,-11.5,-11.9,-12.0,-11.2,-11.0,-10.3,-10.0,-9.8,-9.3,-10.4,-10.7,-8.9,-8.5,-8.7,-9.0,-9.2,-8.4,-7.4,-7.9,-7.0,-5.9,-6.2,-5.9,-5.9,-6.5,-7.8,-8.6,-9.0,-8.9,-8.5,-7.9,-7.8]
t500_29 = [-8.2,-9.0,-8.6,-10.0,-10.1,-10.0,-8.9,-9.8,-9.9,-9.5,-9.5,-10.0,-11.6,-13.0,-12.6,-9.7,-7.8,-7.0,-6.7,-7.0,-7.2,-7.3,-7.1,-8.1,-9.7,-9.4,-9.1,-9.5,-10.9,-10.6,-9.8,-10.3,-9.7,-8.0,-8.3,-7.4,-7.6,-7.1,-7.0,-7.9,-7.7,-7.6,-7.3,-8.0,-9.6,-9.3,-8.8,-7.1,-6.7,-6.4,-5.7,-6.6,-7.1,-6.4,-5.5,-4.7,-5.2,-6.4,-6.3,-5.9,-6.3,-6.4,-6.0,-6.3,-6.6]
t500_30 = [-8.0,-9.0,-8.5,-9.9,-10.2,-10.3,-8.5,-9.0,-9.2,-9.2,-9.3,-9.9,-10.4,-11.4,-10.8,-10.0,-7.5,-6.7,-6.2,-6.5,-6.8,-6.7,-5.8,-6.9,-8.0,-7.6,-6.4,-7.3,-8.0,-7.2,-6.6,-6.2,-6.5,-9.0,-8.7,-8.5,-9.4,-8.2,-8.0,-9.2,-10.3,-6.6,-5.3,-7.7,-9.1,-8.3,-10.4,-7.8,-8.6,-8.4,-6.9,-7.0,-6.7,-5.7,-5.5,-3.8,-3.6,-3.6,-3.4,-3.9,-6.0,-6.5,-6.8,-7.4,-6.9]

mm_03 = {11:0.2,12:1.1,13:0.2}
mm_04 = {26:0.2,27:1.7,28:0.4,40:0.5,41:7.5,42:0.5,45:1.0,46:2.9,47:0.6}
mm_06 = {24:0.4,25:1.4,26:0.3,53:0.4,54:1.2,55:0.4,56:0.5,57:10.8,58:0.8}
mm_07 = {33:0.2,34:0.9,35:1.4,36:3.3,37:1.9,38:1.2,39:0.4}
mm_11 = {26:0.4,27:2.9,28:0.4,29:0.4,30:1.7,31:1.4,32:0.4,61:0.7,62:3.9,63:1.3,64:0.4}
mm_12 = {8:0.4,9:0.7,10:0.3,44:0.5,45:0.4,46:0.5,47:0.3}
mm_16 = {59:0.5,60:2.0,61:9.6,62:0.9}
mm_17 = {12:0.3,13:0.6,14:0.2,27:0.4,28:1.2,29:0.9,30:0.2}
mm_19 = {59:0.3,60:1.2,61:0.4}
mm_21 = {18:0.2,19:0.3,20:0.2,49:0.2,57:0.2,58:0.3}
mm_22 = {56:0.4,57:4.2,58:3.0,59:0.4}
mm_23 = {40:0.5,41:8.7,42:8.4,43:0.4}
mm_24 = {15:0.2,16:0.4,17:0.2,62:0.9,63:8.0,64:0.4}
mm_25 = {45:0.3,46:0.4,48:0.3,49:0.9,50:2.3,51:0.4,60:0.4,61:4.1,62:0.9}
mm_27 = {10:0.2,11:0.5,12:0.2,41:0.7,42:3.9,43:0.4}
mm_28 = {8:0.3,9:1.4,10:0.3,37:0.6,38:1.6,39:1.1,40:0.3}
mm_29 = {40:0.5,41:2.4,42:2.5,43:0.4}
mm_30 = {38:0.2,39:0.4,40:1.7,41:0.4}
mm_empty = {}

t850 = [t850_01,t850_02,t850_03,t850_04,t850_05,t850_06,t850_07,t850_08,t850_09,t850_10,t850_11,t850_12,t850_13,t850_14,t850_15,t850_16,t850_17,t850_18,t850_19,t850_20,t850_21,t850_22,t850_23,t850_24,t850_25,t850_26,t850_27,t850_28,t850_29,t850_30]
t500 = [t500_01,t500_02,t500_03,t500_04,t500_05,t500_06,t500_07,t500_08,t500_09,t500_10,t500_11,t500_12,t500_13,t500_14,t500_15,t500_16,t500_17,t500_18,t500_19,t500_20,t500_21,t500_22,t500_23,t500_24,t500_25,t500_26,t500_27,t500_28,t500_29,t500_30]
mm = [mm_empty,mm_empty,mm_03,mm_04,mm_empty,mm_06,mm_07,mm_empty,mm_empty,mm_empty,mm_11,mm_12,mm_empty,mm_empty,mm_empty,mm_16,mm_17,mm_empty,mm_19,mm_empty,mm_21,mm_22,mm_23,mm_24,mm_25,mm_empty,mm_27,mm_28,mm_29,mm_30]

FONT = "DejaVu Sans Mono"
GRID = "#BBBBBB"
PPU = 7.0           # pixels per degree
H_PX = 0.6          # hours per pixel
Y_TOP = 231/PPU
Y_BOT = (231-600)/PPU
MM0 = -45           # the precipitation zero sits on the -45 line

p = figure(width=740, height=700, output_backend="svg", toolbar_location=None, min_border=0,
           x_range=Range1d(-50*H_PX, 690*H_PX), y_range=Range1d((231-700)/PPU, Y_TOP),
           x_axis_location=None, y_axis_location=None)
p.styles = {"position": "absolute", "left": "0px", "top": "0px"}
p.outline_line_color = None
p.xgrid.visible = False
p.ygrid.visible = False

for h in [18+24*k for k in range(16)]:
    p.segment(h, Y_BOT, h, Y_TOP, line_color=GRID, line_width=1)
for v in left_ticks:
    p.segment(0, v, 384, v, line_color="#A0A0A0" if v == 0 else GRID, line_width=2 if v % 10 == 0 else 1)

def yaxis(side, labels, standoff, where):
    a = LinearAxis(ticker=FixedTicker(ticks=list(labels)), major_label_overrides=labels,
                   major_tick_line_color=None, minor_tick_line_color=None, fixed_location=where,
                   bounds=(Y_BOT, Y_TOP), major_label_standoff=standoff, major_label_text_font=FONT,
                   major_label_text_font_size="10px", major_label_text_color="#000000",
                   axis_line_color="#000000", axis_line_width=1)
    p.add_layout(a, side)
yaxis("left", {v: str(v) for v in left_ticks}, 19, 0)
yaxis("right", right_labels, 20, 384)
ticks = [18+24*k+3.6 for k in range(16)]
xa = LinearAxis(ticker=FixedTicker(ticks=ticks), major_label_overrides=dict(zip(ticks, day_labels)),
                major_tick_line_color=None, minor_tick_line_color=None, fixed_location=Y_BOT, bounds=(0, 384),
                major_label_orientation="vertical", major_label_standoff=-5, major_label_text_font=FONT,
                major_label_text_font_size="10px", major_label_text_color="#000000", axis_line_color="#000000")
p.add_layout(xa, "below")

def member(x, y, c):
    p.line(x, y, line_color=c, line_width=1)
    p.scatter(x, y, marker="circle", size=3, fill_color=c, line_color=c, line_width=0)

# the control run and the GFS run lie under the members; the mean lies over everything
for s in (gfs850, gfs500):
    p.line(hours, s, line_color="#000000", line_width=2)
for s in (ctrl850, ctrl500):
    p.line(hours, s, line_color="#0000FF", line_width=2.6)
p.line(hours[1:], [MM0+v for v in gfs_mm[1:]], line_color="#000000", line_width=2)
p.line(hours[1:], [MM0+v for v in ctrl_mm[1:]], line_color="#0000FF", line_width=2.6)

for s, c in zip(t850, member_colors):
    member(hours[:len(s)], s, c)
for s, c in zip(t500, member_colors):
    member(hours[:len(s)], s, c)
for d, c in zip(mm, member_colors):
    member(hours[1:], [MM0 + d.get(i, 0.0) for i in range(1, 65)], c)

for s in (mean850, mean500):
    p.line(hours, s, line_color="#FF0000", line_width=4)
p.line(hours[1:], [MM0+v for v in mean_mm[1:]], line_color="#FF0000", line_width=4)

def t(x, y, s, size="10px", bold=False, align="left", color="#000000", font=FONT):
    p.add_layout(Label(x=x, y=y, x_units="canvas", y_units="canvas", text=s, text_font=font, text_font_size=size,
                       text_font_style="bold" if bold else "normal", text_align=align, text_baseline="middle", text_color=color))
def box(l, r, top, b, fill, line=None):
    p.add_layout(BoxAnnotation(left=l, right=r, top=top, bottom=b, left_units="canvas", right_units="canvas",
                               top_units="canvas", bottom_units="canvas", fill_color=fill or "#FFFFFF",
                               fill_alpha=1 if fill else 0, line_color=line or "#000000", line_alpha=1 if line else 0, line_width=1))

t(59, 52, "Temp. 850hPa"); t(59, 273, "Temp. 500hPa"); t(59, 527, "Précipitations")
t(20, 607, "(°C)"); t(10, 623, "Alt. 386m"); t(710, 607, "(mm)")
box(35, 66, 635, 639, "#FF0000"); t(74, 637, "Moyenne des scénarios")
box(225, 256, 635, 639, "#0000FF"); t(264, 637, "Run de contrôle")
box(225, 256, 645, 649, "#000000"); t(264, 647, "Run GFS")
t(339, 652, "30 Perts."); t(74, 659, "Risque neige")
t(60, 658, "\u2744", size="16px", align="center", color="#6BB5EE", font="DejaVu Sans")
box(20.5, 440.5, 667.5, 699.5, None, "#000000")
t(30, 677, "Diagramme des ensembles GEFS sur 384h : 39.4N 0.7W", size="11.6px", bold=True)
t(30, 692, "Températures 850hPa et 500hPa (°C) , précipitations (mm)")
t(449, 675, "Ensemble GEFS du 25/08/2026 - 06Z")
t(449, 692, "Copyright 2026 Meteociel.fr", size="11.6px", bold=True)
for i, c in enumerate(member_colors):
    x = 400+11*i
    box(x, x+10, 650, 656, c)
    t(x+5, 644, f"{i+1:02d}", size="7.6px", align="center")

open("out.html", "w").write(file_html(p, INLINE))
